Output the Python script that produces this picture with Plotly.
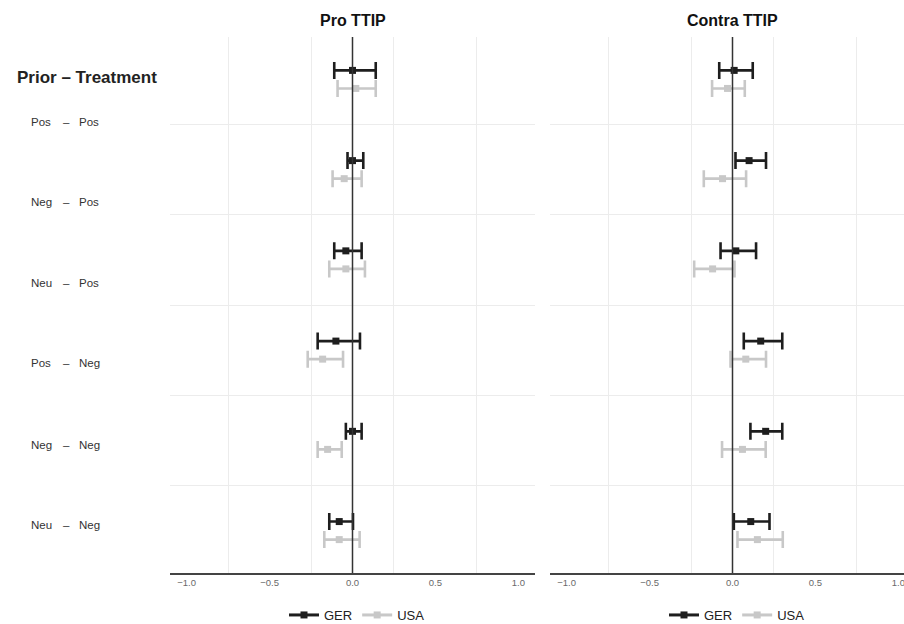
import plotly.graph_objects as go

# ---- data ----
rows = ["Pos – Pos", "Neg – Pos", "Neu – Pos", "Pos – Neg", "Neg – Neg", "Neu – Neg"]
prior = ["Pos", "Neg", "Neu", "Pos", "Neg", "Neu"]
treatment = ["Pos", "Pos", "Pos", "Neg", "Neg", "Neg"]
row_pos = [6, 5, 4, 3, 2, 1]

# Pro TTIP
pro_ger_est = [0.00, 0.00, -0.04, -0.10, 0.00, -0.08]
pro_ger_lo = [-0.11, -0.03, -0.11, -0.21, -0.04, -0.14]
pro_ger_hi = [0.14, 0.065, 0.055, 0.045, 0.055, 0.003]
pro_usa_est = [0.02, -0.05, -0.04, -0.18, -0.15, -0.08]
pro_usa_lo = [-0.09, -0.12, -0.14, -0.27, -0.21, -0.17]
pro_usa_hi = [0.14, 0.055, 0.075, -0.057, -0.065, 0.043]

# Contra TTIP
con_ger_est = [0.01, 0.10, 0.02, 0.17, 0.20, 0.11]
con_ger_lo = [-0.08, 0.018, -0.072, 0.068, 0.108, 0.008]
con_ger_hi = [0.122, 0.202, 0.142, 0.30, 0.30, 0.223]
con_usa_est = [-0.03, -0.06, -0.12, 0.08, 0.06, 0.15]
con_usa_lo = [-0.123, -0.173, -0.231, -0.012, -0.063, 0.03]
con_usa_hi = [0.074, 0.082, 0.012, 0.202, 0.20, 0.303]

x_ticks = [-1.0, -0.5, 0.0, 0.5, 1.0]
x_tick_text = ["\u22121.0", "\u22120.5", "0.0", "0.5", "1.0"]
panel_titles = ["Pro TTIP", "Contra TTIP"]
series_names = ["GER", "USA"]

# ---- style ----
GER_COL = "#1e1e1e"
USA_COL = "#c8c8c8"
FONT = "Liberation Sans, Arial, sans-serif"
OFFSET = 0.1

W, H = 904, 624
ML, MR, MT, MB = 0, 0, 37, 51
PH = H - MT - MB  # plot height in px

fig = go.Figure()


def add_series(est, lo, hi, offset, color, xa, ya):
    fig.add_trace(go.Scatter(
        x=est, y=[r + offset for r in row_pos], mode="markers",
        marker=dict(symbol="square", size=7, color=color,
                    line=dict(color=color, width=0)),
        error_x=dict(type="data", symmetric=False,
                     array=[h - e for h, e in zip(hi, est)],
                     arrayminus=[e - l for e, l in zip(est, lo)],
                     color=color, thickness=2.6, width=8.5),
        xaxis=xa, yaxis=ya, showlegend=False, hoverinfo="skip"))


add_series(pro_ger_est, pro_ger_lo, pro_ger_hi, OFFSET, GER_COL, "x", "y")
add_series(pro_usa_est, pro_usa_lo, pro_usa_hi, -OFFSET, USA_COL, "x", "y")
add_series(con_ger_est, con_ger_lo, con_ger_hi, OFFSET, GER_COL, "x2", "y2")
add_series(con_usa_est, con_usa_lo, con_usa_hi, -OFFSET, USA_COL, "x2", "y2")

# legend dummies (one legend per panel)
for leg, xa, ya in [("legend", "x", "y"), ("legend2", "x2", "y2")]:
    for name, col in zip(series_names, [GER_COL, USA_COL]):
        fig.add_trace(go.Scatter(
            x=[None], y=[None], mode="lines+markers", name=name,
            line=dict(color=col, width=3),
            marker=dict(symbol="square", size=7, color=col),
            xaxis=xa, yaxis=ya, legend=leg, showlegend=True))

d1 = [170 / W, 535 / W]
d2 = [550 / W, 1.0]
r1 = [-1.1, 1.1]
r2 = [-1.1, -1.1 + (W - 550) / (365 / 2.2)]

axis_common = dict(
    tickvals=x_ticks, ticktext=x_tick_text, showgrid=False, zeroline=False,
    showline=True, linecolor="#444444", linewidth=1.5, ticks="",
    ticklabeloverflow="allow",
    tickfont=dict(size=9.5, color="#6a6a6a", family=FONT),
    minor=dict(tickvals=[-0.75, -0.25, 0.25, 0.75], showgrid=True,
               gridcolor="#ececec", gridwidth=1, ticks=""),
)
yaxis_common = dict(
    range=[0.53, 6.47], tickvals=[1.5, 2.5, 3.5, 4.5, 5.5], showticklabels=False,
    showgrid=True, gridcolor="#ececec", gridwidth=1, zeroline=False, ticks="",
    showline=False,
)


def py(ypx):
    return (H - MB - ypx) / PH


def cy(ypx):
    return (H - ypx) / H


leg_common = dict(orientation="h", xref="container", yref="container",
                  xanchor="center", yanchor="middle", y=cy(615),
                  font=dict(size=13, color="#222"), itemwidth=30,
                  tracegroupgap=0, bgcolor="rgba(0,0,0,0)")

fig.update_layout(
    width=W, height=H,
    margin=dict(l=ML, r=MR, t=MT, b=MB, autoexpand=False),
    paper_bgcolor="white", plot_bgcolor="white",
    font=dict(family=FONT),
    xaxis=dict(domain=d1, range=r1, anchor="y", **axis_common),
    xaxis2=dict(domain=d2, range=r2, anchor="y2", **axis_common),
    yaxis=dict(domain=[0, 1], anchor="x", **yaxis_common),
    yaxis2=dict(domain=[0, 1], anchor="x2", **yaxis_common),
    legend=dict(x=357 / W, **leg_common),
    legend2=dict(x=737 / W, **leg_common),
)

# zero reference lines
for xa in ["x", "x2"]:
    fig.add_shape(type="line", xref=xa, yref="paper", x0=0, x1=0, y0=0, y1=1,
                  line=dict(color="#333333", width=1.5), layer="above")

# panel titles
for xa, t in zip(["x", "x2"], panel_titles):
    fig.add_annotation(text="<b>" + t + "</b>", xref=xa, yref="paper", x=0,
                       y=py(20), yanchor="middle", showarrow=False,
                       font=dict(size=16, color="#111", family=FONT))

# left row labels
fig.add_annotation(text="<b>Prior \u2013 Treatment</b>", xref="paper", yref="paper",
                   x=87 / W, y=py(77), xanchor="center", yanchor="middle",
                   showarrow=False, font=dict(size=17, color="#222", family=FONT))
label_y = [122, 202, 283, 363, 445, 525]
for p, t, yy in zip(prior, treatment, label_y):
    for txt, xx in [(p, 41), ("\u2013", 66), (t, 89)]:
        fig.add_annotation(text=txt, xref="paper", yref="paper", x=xx / W, y=py(yy),
                           xanchor="center", yanchor="middle", showarrow=False,
                           font=dict(size=11.5, color="#333", family=FONT))

fig.write_html("out.html",
               config={"displayModeBar": False},
               post_script="document.body.style.margin='0px';"
                           "document.body.style.overflow='hidden';")
